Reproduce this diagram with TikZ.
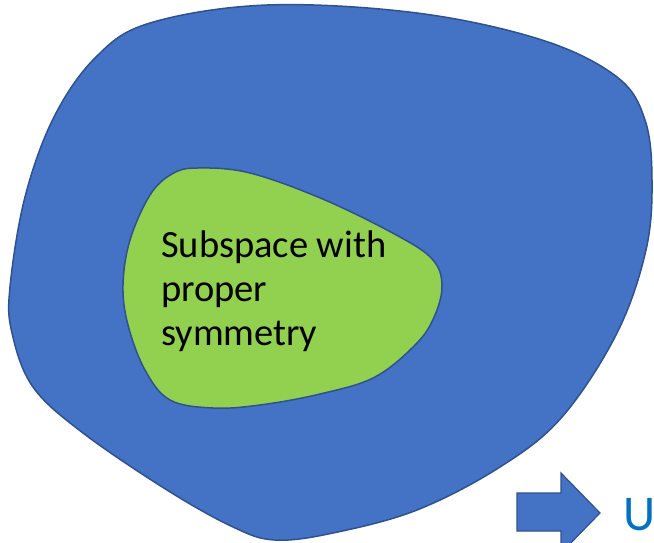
\documentclass[tikz,border=0pt]{standalone}
\usepackage{fontspec}
\setmainfont{Carlito}
\definecolor{blobblue}{HTML}{4472C4}
\definecolor{edgeblue}{HTML}{2F528F}
\definecolor{blobgreen}{HTML}{92D050}
\definecolor{ublue}{HTML}{0070C0}
\begin{document}
\begin{tikzpicture}[x=1pt,y=-1pt,
  blob/.style={draw=edgeblue,line width=1.5pt},
  label/.style={inner sep=0pt,align=left,font=\fontsize{38.5}{44}\selectfont}]
\useasboundingbox (0,0) rectangle (654,542);
% outer region
\draw[blob,fill=blobblue] plot[smooth cycle,tension=0.6] coordinates {
 (150,23) (267,5) (417,13) (542,40) (617,77) (645,120) (652,180) (646,250)
 (617,333) (562,417) (500,467) (417,510) (333,533) (275,540) (233,527)
 (167,490) (83,433) (33,387) (12,333) (10,287) (25,197) (54,117) (96,57)};
% inner subspace
\draw[blob,fill=blobgreen] plot[smooth cycle,tension=0.6] coordinates {
 (197,168) (250,173) (325,200) (400,237) (433,260) (442,285) (435,315)
 (417,343) (375,377) (320,394) (260,405) (213,408) (170,400) (145,370)
 (128,325) (123,285) (130,240) (150,195) (172,174)};
\node[label,anchor=base west] (txt) at (161,345) {Subspace with\\proper\\symmetry};
% arrow
\draw[draw=edgeblue,line width=1.2pt,fill=blobblue,line join=miter]
 (517,493) -- (561,493) -- (561,473) -- (600,513) -- (561,553) -- (561,531) -- (517,531) -- cycle;
\node[inner sep=0pt,anchor=base west,text=ublue,font=\fontsize{50}{60}\selectfont] (u) at (623,530) {U};
\end{tikzpicture}
\end{document}
